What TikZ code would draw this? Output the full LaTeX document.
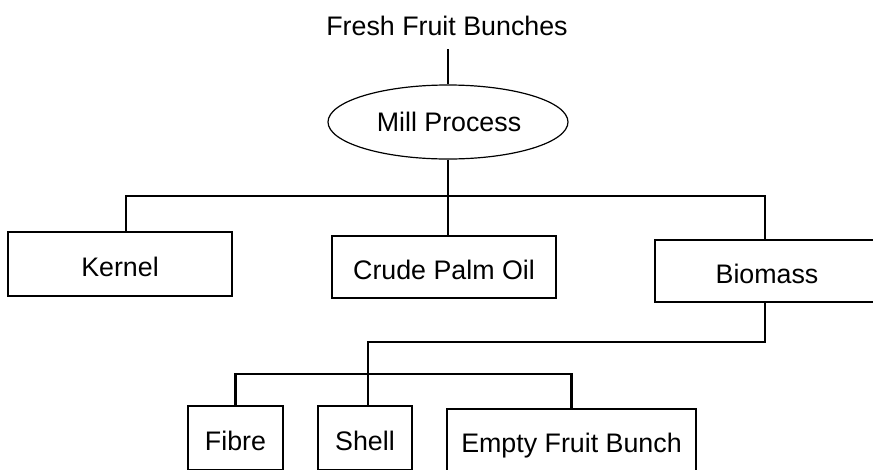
\documentclass[tikz,border=0pt]{standalone}
\usepackage{fontspec}
\setmainfont{Liberation Sans}
\usetikzlibrary{shapes.geometric}
\begin{document}
\begin{tikzpicture}[x=1pt,y=-1pt,
  txt/.style={font=\fontsize{26.8}{30}\selectfont, text height=24pt, text depth=0pt, inner sep=0pt},
  boxnode/.style={txt, draw, line width=1.4pt, rectangle},
  conn/.style={line width=2.6pt},
]
\useasboundingbox (0,0) rectangle (873,469);
\clip (0,0) rectangle (873,469);
\node[font=\fontsize{26.8}{30}\selectfont, inner sep=0pt, anchor=base] (fresh) at (447,35) {Fresh Fruit Bunches};
\node[ellipse, draw, line width=1.2pt, minimum width=240pt, minimum height=74pt, inner sep=0pt, font=\fontsize{26.8}{30}\selectfont] (mill) at (448,122) {};
\node[font=\fontsize{26.8}{30}\selectfont, inner sep=0pt, anchor=base] (millt) at (449,131) {Mill Process};
\node[boxnode, minimum width=224pt, minimum height=64pt] (kernel) at (120,264) {Kernel};
\node[boxnode, minimum width=224pt, minimum height=62pt] (cpo) at (444,267) {Crude Palm Oil};
\node[boxnode, minimum width=224pt, minimum height=62pt] (biomass) at (767,271) {Biomass};
\node[boxnode, minimum width=95pt, minimum height=64pt] (fibre) at (235.5,438) {Fibre};
\node[boxnode, minimum width=94pt, minimum height=64pt] (shell) at (365,438) {Shell};
\node[boxnode, minimum width=249pt, minimum height=62pt] (efb) at (571.5,440) {Empty Fruit Bunch};
\coordinate (bar1) at (448,196);
\coordinate (bar2) at (368,342);
\coordinate (bar3) at (400,374);
\draw[conn, shorten <=14pt] (fresh.south -| mill.north) -- (mill.north);
\draw[conn] (mill.south) -- (mill.south |- cpo.north);
\draw[conn] ([xshift=6pt]kernel.north) |- (bar1) -| ([xshift=-2pt]biomass.north);
\draw[conn] ([xshift=-2pt]biomass.south) |- (bar2) -- ([xshift=3pt]shell.north);
\draw[conn] (fibre.north) |- (bar3) -| (efb.north);
\end{tikzpicture}
\end{document}
